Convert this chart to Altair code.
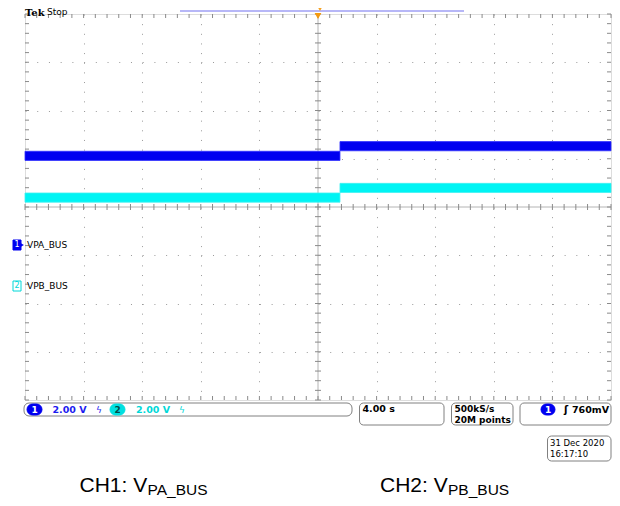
import altair as alt
import pandas as pd

seg_start = [-20.0, 1.5]          # s  (time axis: 4 s/div, trigger at centre)
seg_end = [1.5, 20.0]
ch1_volts = [3.70, 4.10]          # CH1 V_PA_BUS level before / after the step
ch2_volts = [3.67, 4.07]          # CH2 V_PB_BUS level before / after the step
noise_pp = 0.38                   # V, visible peak-to-peak band of each trace
volts_per_div = 2.0
ch1_offset_div = -0.79            # ground marker positions
ch2_offset_div = -1.64

W, H = 586, 386

rows = []
for name, lv, off in [("CH1", ch1_volts, ch1_offset_div), ("CH2", ch2_volts, ch2_offset_div)]:
    for t0, t1, v in zip(seg_start, seg_end, lv):
        rows.append({"ch": name, "t0": t0, "t1": t1,
                     "lo": off + (v - noise_pp / 2) / volts_per_div,
                     "hi": off + (v + noise_pp / 2) / volts_per_div})
traces = pd.DataFrame(rows)

xs = alt.Scale(domain=[-20, 20], nice=False, zero=False)
ys = alt.Scale(domain=[-4, 4], nice=False, zero=False)
one = pd.DataFrame({"d": [0]})

GRID = "#9a9a9a"

grid = alt.Chart(one).mark_point(opacity=0).encode(
    x=alt.X("d:Q", scale=xs, axis=alt.Axis(values=[-16, -12, -8, -4, 4, 8, 12, 16], grid=True,
            gridDash=[1, 8.65], gridColor=GRID, gridWidth=1, labels=False, ticks=False,
            domain=False, title=None)),
    y=alt.Y("d:Q", scale=ys, axis=alt.Axis(values=[-3, -2, -1, 1, 2, 3], grid=True,
            gridDash=[1, 10.72], gridColor=GRID, gridWidth=1, labels=False, ticks=False,
            domain=False, title=None)),
)

xminor = pd.DataFrame({"t": [-20 + 0.8 * i for i in range(51)]})
yminor = pd.DataFrame({"v": [-4 + 0.2 * i for i in range(41)]})

center_v = alt.Chart(one).mark_rule(color="#b4b4b4", strokeWidth=1).encode(
    x=alt.X("c:Q", scale=xs), y=alt.value(0), y2=alt.value(H)).transform_calculate(c="0")
center_h = alt.Chart(one).mark_rule(color="#b4b4b4", strokeWidth=1).encode(
    y=alt.Y("c:Q", scale=ys), x=alt.value(0), x2=alt.value(W)).transform_calculate(c="0")

tk = dict(color="#8a8a8a", strokeWidth=1)
ticks_top = alt.Chart(xminor).mark_rule(**tk).encode(x=alt.X("t:Q", scale=xs), y=alt.value(0), y2=alt.value(4))
ticks_bot = alt.Chart(xminor).mark_rule(**tk).encode(x=alt.X("t:Q", scale=xs), y=alt.value(H - 4), y2=alt.value(H))
ticks_cx = alt.Chart(xminor).mark_rule(**tk).encode(x=alt.X("t:Q", scale=xs), y=alt.value(H / 2 - 3), y2=alt.value(H / 2 + 3))
ticks_l = alt.Chart(yminor).mark_rule(**tk).encode(y=alt.Y("v:Q", scale=ys), x=alt.value(0), x2=alt.value(4))
ticks_r = alt.Chart(yminor).mark_rule(**tk).encode(y=alt.Y("v:Q", scale=ys), x=alt.value(W - 4), x2=alt.value(W))
ticks_cy = alt.Chart(yminor).mark_rule(**tk).encode(y=alt.Y("v:Q", scale=ys), x=alt.value(W / 2 - 3), x2=alt.value(W / 2 + 3))

trace_layer = alt.Chart(traces).mark_rect(strokeWidth=0.8).encode(
    x=alt.X("t0:Q", scale=xs), x2="t1:Q",
    y=alt.Y("lo:Q", scale=ys), y2="hi:Q",
    color=alt.Color("ch:N", scale=alt.Scale(domain=["CH1", "CH2"], range=["#0000f0", "#00f4f4"]), legend=None),
    stroke=alt.Stroke("ch:N", scale=alt.Scale(domain=["CH1", "CH2"], range=["#3030ff", "#40f0f0"]), legend=None),
)


def txt(s, x, y, size=10, color="black", align="left", baseline="middle", font="DejaVu Sans", weight="normal"):
    return alt.Chart(one).mark_text(text=s, align=align, baseline=baseline, fontSize=size, color=color,
                                    font=font, fontWeight=weight).encode(x=alt.value(x), y=alt.value(y))


def box(x1, x2, y1, y2, fill="white", stroke="#808080", r=0, sw=1):
    return alt.Chart(one).mark_rect(fill=fill, stroke=stroke, cornerRadius=r, strokeWidth=sw).encode(
        x=alt.value(x1), x2=alt.value(x2), y=alt.value(y1), y2=alt.value(y2))


BLUE = "#1c1cf0"
CYAN = "#00d8d8"
deco = [
    # top header
    txt("Tek", 0, -6, size=10, font="DejaVu Serif", weight="bold", baseline="top"),
    txt("Stop", 22, -6, size=9, baseline="top"),
    alt.Chart(one).mark_rule(color="#7070f0", strokeWidth=1.2).encode(
        x=alt.value(155), x2=alt.value(439), y=alt.value(-3)),
    alt.Chart(one).mark_point(shape="triangle-down", filled=True, color="#f5a020", size=12, opacity=1).encode(
        x=alt.value(295), y=alt.value(-4.5)),
    alt.Chart(one).mark_point(shape="triangle-down", filled=True, color="#f59a10", size=45, opacity=1).encode(
        x=alt.value(W / 2), y=alt.value(2)),
    # channel ground markers
    box(-12, -4, 226, 236, fill="#0000f0", stroke="#0000f0"),
    alt.Chart(one).mark_point(shape="triangle-right", filled=True, color="#0000f0", size=20, opacity=1).encode(
        x=alt.value(-3), y=alt.value(231)),
    txt("1", -8, 231, size=8, color="white", align="center"),
    txt("VPA_BUS", 2, 231, size=9),
    box(-12, -4, 267, 277, fill="white", stroke=CYAN),
    txt("2", -8, 272, size=8, color=CYAN, align="center"),
    txt("VPB_BUS", 2, 272, size=9),
    # status bar
    box(-1, 327, 389, 402, r=5),
    box(2, 17, 390, 401, fill="#0000f0", stroke="#0000f0", r=5.5),
    txt("1", 9.5, 395.5, size=9, color="white", align="center", weight="bold"),
    txt("2.00 V", 27.5, 395.5, size=9.5, color=BLUE, weight="bold"),
    txt("ϟ", 71, 395.5, size=9, color=BLUE),
    box(85, 100, 390, 401, fill="#00e0e0", stroke="#00e0e0", r=5.5),
    txt("2", 92.5, 395.5, size=9, color="#004a4a", align="center", weight="bold"),
    txt("2.00 V", 111, 395.5, size=9.5, color=CYAN, weight="bold"),
    txt("ϟ", 154, 395.5, size=9, color=CYAN),
    box(334.5, 419, 389, 411, r=4),
    txt("4.00 s", 337.5, 395, size=9.5, weight="bold"),
    box(426.5, 488, 389, 411, r=4),
    txt("500kS/s", 429.5, 395, size=9, weight="bold"),
    txt("20M points", 429.5, 406, size=9, weight="bold"),
    box(495, 586, 389, 411, r=4),
    box(516, 530, 390, 401, fill="#0000f0", stroke="#0000f0", r=5.5),
    txt("1", 523, 395.5, size=9, color="white", align="center", weight="bold"),
    txt("ʃ", 539, 395.5, size=10, weight="bold"),
    txt("760mV", 584, 395.5, size=9.5, align="right", weight="bold"),
    box(522.5, 586, 422, 447, r=4),
    txt("31 Dec  2020", 525, 428.5, size=8.5),
    txt("16:17:10", 525, 440, size=8.5),
    # captions
    txt("CH1: V", 54.5, 477.5, size=21, font="Liberation Sans", baseline="alphabetic"),
    txt("PA_BUS", 122.5, 480.5, size=15.5, font="Liberation Sans", baseline="alphabetic"),
    txt("CH2: V", 355, 477.5, size=21, font="Liberation Sans", baseline="alphabetic"),
    txt("PB_BUS", 423, 480.5, size=15.5, font="Liberation Sans", baseline="alphabetic"),
]

chart = alt.layer(
    grid, center_v, center_h,
    ticks_top, ticks_bot, ticks_cx, ticks_l, ticks_r, ticks_cy,
    trace_layer, *deco
).properties(
    width=W, height=H,
    autosize=alt.AutoSizeParams(type="none"),
    padding={"left": 17, "top": 6, "right": 1, "bottom": 98},
).configure_view(stroke="#7f7f7f", strokeWidth=1.2).configure(background="white")

chart.save("out.html", embed_options={"renderer": "svg", "actions": False})
